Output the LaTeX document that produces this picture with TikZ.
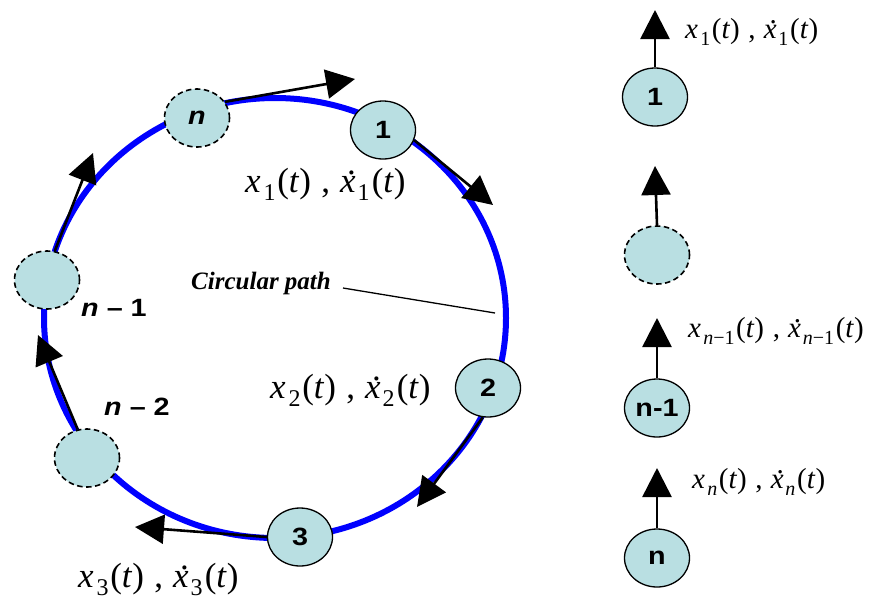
\documentclass[tikz,border=0pt]{standalone}
\usepackage{fontspec}
\setmainfont{Liberation Serif}
\newfontfamily\tms{Liberation Serif}
\newfontfamily\arl{Liberation Sans}
\usetikzlibrary{arrows.meta,shapes.geometric}
\definecolor{nodefill}{RGB}{185,223,226}
\definecolor{pathblue}{RGB}{0,0,255}
\newcommand{\lsub}[2]{\raisebox{-0.25em}{\fontsize{#1}{#1}\selectfont #2}}
\newcommand{\dotx}{\rlap{\kern0.2em\raisebox{0.5em}{.}}\textit{x}}
\newcommand{\pairlab}[3]{{\fontsize{#1}{#1}\selectfont\tms\textit{x}\kern0.08em\lsub{#2}{#3}\kern0.05em(\textit{t})\kern0.3em,\kern0.28em\dotx\kern0.06em\lsub{#2}{#3}\kern0.06em(\textit{t})}}
\newcommand{\nlab}[1]{\scalebox{1.15}[1]{\fontsize{25}{25}\selectfont\arl\bfseries #1}}
\begin{document}
\begin{tikzpicture}[x=1pt,y=-1pt,
  nd/.style={ellipse, draw=black, fill=nodefill, line width=1.3pt, minimum width=65pt, minimum height=58pt, inner sep=0pt},
  dnd/.style={nd, dash pattern=on 5.5pt off 3.5pt, line width=1.6pt},
  arr/.style={line width=2.6pt, -{Triangle[length=29pt,width=29pt]}},
  lbl/.style={anchor=base west, inner sep=0pt}]
\useasboundingbox (0,0) rectangle (869,603);
% circular path
\draw[pathblue, line width=6pt] (275,318) ellipse [x radius=231pt, y radius=220pt];
% nodes on the circle
\node[nd] (c1) at (383,130) {\nlab{1}};
\node[nd] (c2) at (488,388) {\nlab{2}};
\node[nd] (c3) at (300,537) {\nlab{3}};
\node[dnd] (cn2) at (87,458) {};
\node[dnd] (cn1) at (47,280) {};
\node[dnd] (cn) at (197,118) {\nlab{\itshape n}};
% right column
\node[nd] (r1) at (655,97) {\nlab{1}};
\node[dnd] (rd) at (657,255) {};
\node[nd] (rn1) at (657,408) {\nlab{n-1}};
\node[nd] (rn) at (657,558) {\nlab{n}};
% labels
\node[lbl] (l1) at (245,192) {\pairlab{35}{24}{1}};
\node[lbl] (l2) at (270,398) {\pairlab{35}{24}{2}};
\node[lbl] (l3) at (78,587) {\pairlab{35}{24}{3}};
\node[lbl] (lr1) at (685,38) {\pairlab{29}{20}{1}};
\node[lbl] (lrn1) at (688,337) {\pairlab{29}{20}{\textit{n}−1}};
\node[lbl] (lrn) at (692,488) {\pairlab{29}{20}{\textit{n}}};
\node (ln1) at (114,308) {\nlab{{\itshape n} – 1}};
\node (ln2) at (137,407) {\nlab{{\itshape n} – 2}};
\node[lbl] (cp) at (191,289) {\fontsize{25}{25}\selectfont\bfseries\itshape Circular path};
\coordinate (cpa) at (343,288);
\coordinate (cpb) at (495,313);
\draw[line width=1.3pt] (cpa) -- (cpb);
% arrow tips
\coordinate (tn) at (355,79);
\coordinate (t1) at (493,205);
\coordinate (t2) at (417,507);
\coordinate (t3) at (135,527);
\coordinate (tn2) at (38,335);
\coordinate (tn1) at (93,153);
\coordinate (rt1) at (655,10);
\coordinate (rtd) at (655,166);
\coordinate (rtn1) at (657,318);
\coordinate (rtn) at (657,468);
\draw[arr] (cn.30) -- (tn);
\draw[arr] (c1.-18) -- (t1);
\draw[arr] (c2.-100) -- (t2);
\draw[arr] (c3.180) -- (t3);
\draw[arr] (cn2.108) -- (tn2);
\draw[arr] (cn1.75) -- (tn1);
\draw[arr] (r1.north) -- (rt1);
\draw[arr] (rd.north) -- (rtd);
\draw[arr] (rn1.north) -- (rtn1);
\draw[arr] (rn.north) -- (rtn);
\end{tikzpicture}
\end{document}
